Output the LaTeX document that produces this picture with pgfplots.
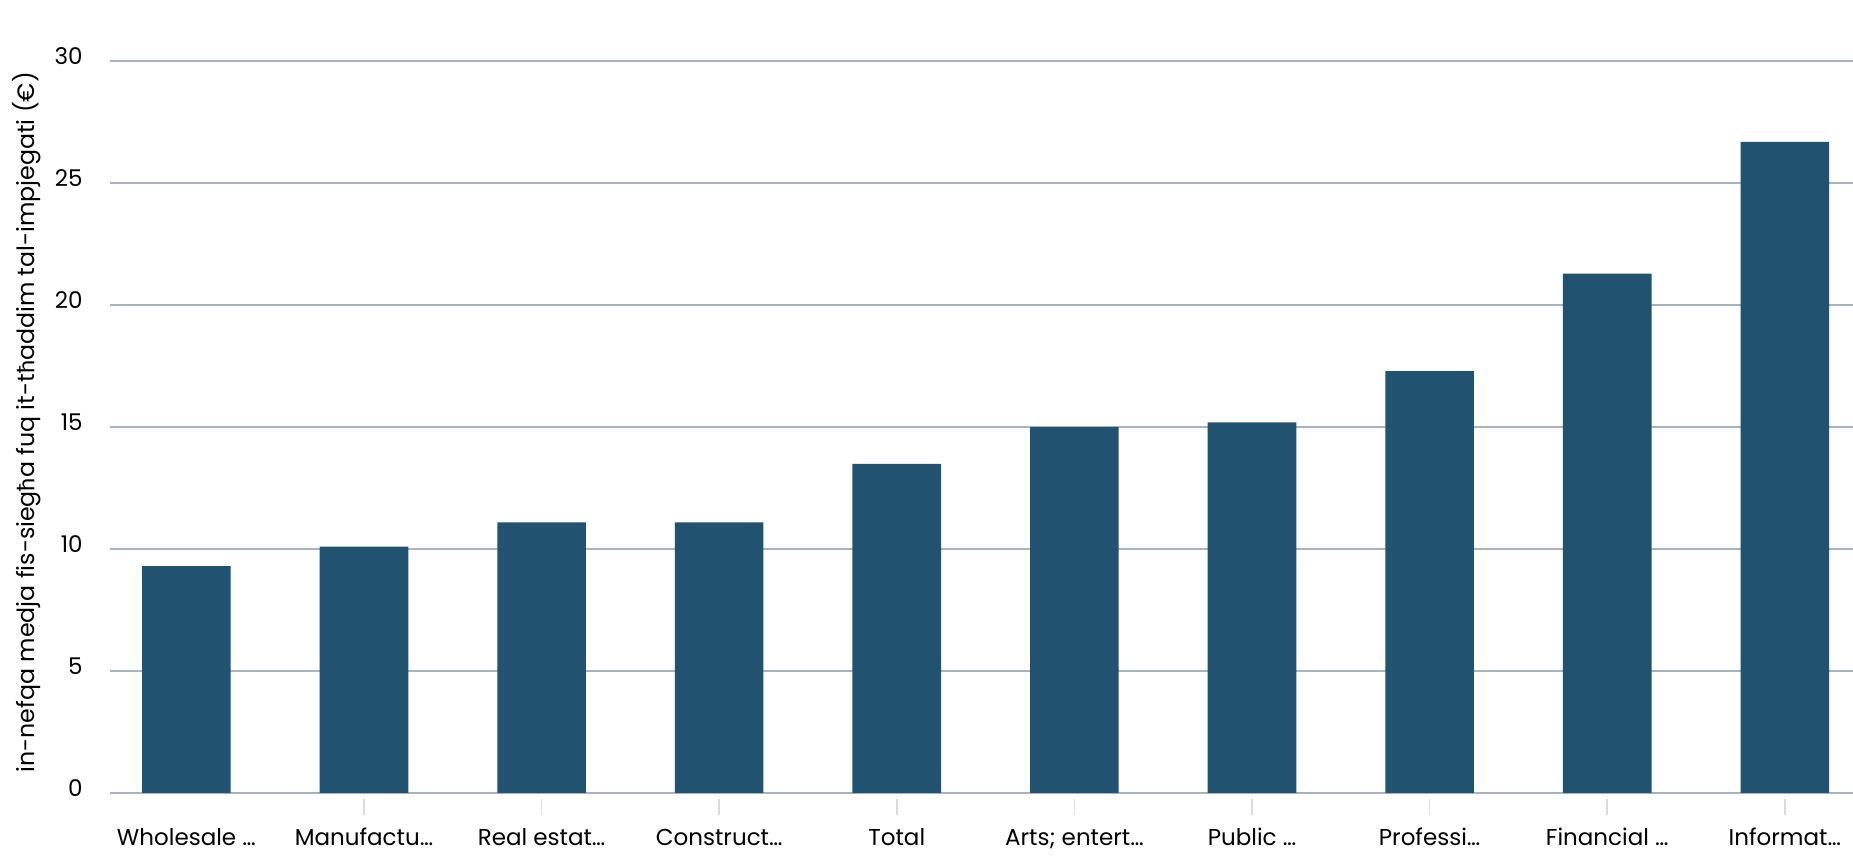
\documentclass[border=0pt]{standalone}
\usepackage{fontspec}
\setmainfont{Poppins}
\newfontfamily\altfont{Lato}
\usepackage{pgfplots}
\pgfplotsset{compat=1.18}
\definecolor{barc}{HTML}{215370}
\definecolor{gridc}{HTML}{A7B4BF}
\definecolor{tickc}{HTML}{D8DDE2}
\begin{document}
\begin{tikzpicture}
\begin{axis}[
  name=ax,
  at={(0,0)}, anchor=south west,
  scale only axis,
  width=871.5pt, height=365.8pt,
  xmin=-0.43, xmax=9.384,
  ymin=0, ymax=30,
  ytick={0,5,...,30},
  xtick={0,...,9},
  xticklabels={Wholesale \dots, Manufactu\dots, Real estat\dots, Construct\dots, Total, Arts; entert\dots, Public \dots, Professi\dots, Financial \dots, Informat\dots},
  major tick length=0pt,
  extra x ticks={1,...,9},
  extra x tick labels={},
  extra x tick style={major tick length=8pt, tick align=outside, tick style={draw=tickc, line width=0.8pt, yshift=-3pt}, grid=none},
  ymajorgrids,
  grid style={draw=gridc, line width=0.9pt},
  axis x line*=bottom,
  axis y line*=left,
  y axis line style={draw=none},
  x axis line style={draw=gridc, line width=1.3pt, -},
  /pgf/number format/assume math mode=true,
  ticklabel style={font=\fontsize{11.5}{13}\selectfont, text=black},
  yticklabel style={anchor=east, inner sep=0pt, xshift=-13.5pt, yshift=2.5pt},
  xticklabel style={anchor=base, inner sep=0pt, yshift=-26.5pt},
  ylabel={in-nefqa medja fis-sieg{\altfont ħ}a fuq it-t{\altfont ħ}addim tal-impjegati (€)},
  every axis y label/.style={at={(axis cs:-0.9,15.2)}, rotate=90, anchor=center, font=\fontsize{11.85}{14}\selectfont},
  clip=false,
]
\addplot[ybar, bar width=44.3pt, fill=barc, draw=none] coordinates {
(0,9.3) (1,10.1) (2,11.1) (3,11.1) (4,13.5) (5,15.0) (6,15.2) (7,17.3) (8,21.3) (9,26.7)
};
\end{axis}
\pgfresetboundingbox
\path[use as bounding box] ([shift={(-55pt,-36pt)}]ax.south west) rectangle ([shift={(0pt,30.7pt)}]ax.north east);
\end{tikzpicture}
\end{document}
